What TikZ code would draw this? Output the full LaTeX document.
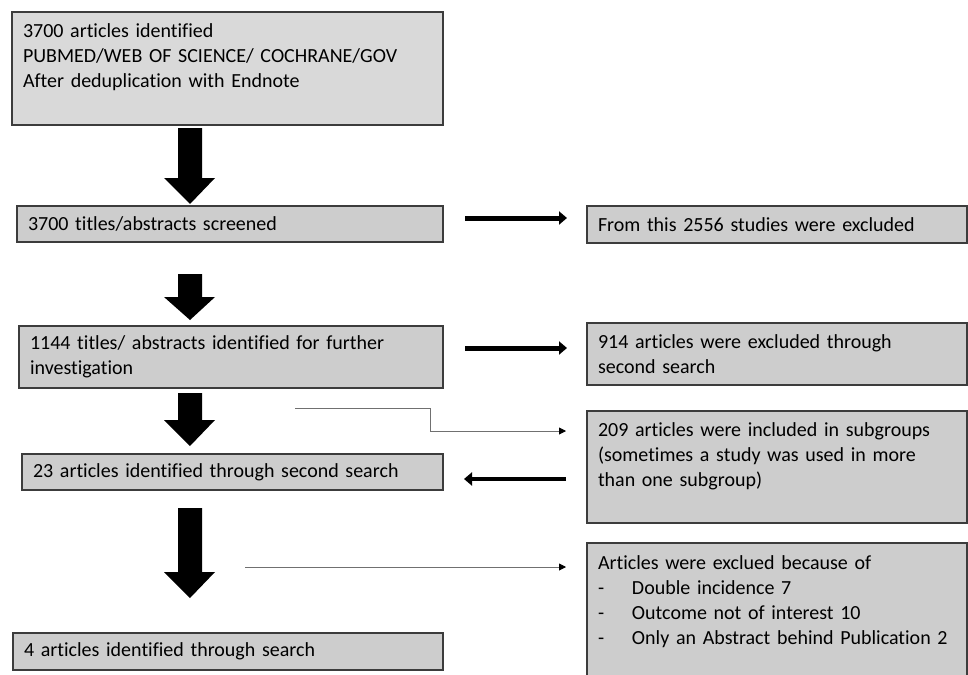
\documentclass[tikz,border=0pt]{standalone}
\usepackage{fontspec}
\setmainfont[RawFeature=-liga]{Carlito}
\usetikzlibrary{arrows.meta}
\definecolor{boxfill}{HTML}{CDCDCD}
\definecolor{boxfillA}{HTML}{D9D9D9}
\definecolor{boxline}{HTML}{3C3C3C}
\definecolor{thinline}{HTML}{707070}
\newcommand\bigdownarr[3]{\fill[black] (178,-#1) -- (202,-#1) -- (202,-#2) -- (215,-#2) -- (190,-#3) -- (164,-#2) -- (178,-#2) -- cycle;}
\newcommand\lstitem[1]{\makebox[34pt][l]{-}#1}
\begin{document}
\begin{tikzpicture}[x=1pt,y=1pt,
  flowbox/.style={draw=boxline, line width=1.3pt, fill=boxfill, anchor=north west,
    align=left, inner xsep=11pt, inner ysep=0pt, outer sep=0pt,
    font=\fontsize{20}{25}\selectfont},
  thickarr/.style={line width=5pt, -{Triangle[length=8pt,width=13pt]}},
  thinarr/.style={draw=thinline, line width=0.9pt, -{Triangle[length=7pt,width=7pt,color=black]}}]
\useasboundingbox (0,0) rectangle (968,-674);
% left column
\node[flowbox, fill=boxfillA, text width=409pt, minimum height=113pt] (A) at (12,-12)
  {3700 articles identified\\PUBMED/WEB OF SCIENCE/ COCHRANE/GOV\\After deduplication with Endnote\\\mbox{}};
\node[flowbox, text width=404pt, minimum height=36pt] (B) at (17,-206) {3700 titles/abstracts screened};
\node[flowbox, text width=402pt, minimum height=62pt] (D) at (19,-326) {1144 titles/ abstracts identified for further\\investigation};
\node[flowbox, text width=399pt, minimum height=36pt] (E) at (22,-454) {23 articles identified through second search};
\node[flowbox, text width=408pt, minimum height=37pt] (H) at (13,-633) {4 articles identified through search};
% right column
\node[flowbox, text width=358pt, minimum height=37pt] (C) at (587,-206) {From this 2556 studies were excluded};
\node[flowbox, text width=358pt, minimum height=62pt] (I) at (587,-323) {914 articles were excluded through\\second search};
\node[flowbox, text width=358pt, minimum height=112pt] (F) at (587,-411) {209 articles were included in subgroups\\(sometimes a study was used in more\\than one subgroup)\\\mbox{}};
\node[flowbox, text width=358pt, minimum height=140pt] (G) at (587,-543) {Articles were exclued because of\\\lstitem{Double incidence 7}\\\lstitem{Outcome not of interest 10}\\\lstitem{Only an Abstract behind Publication 2}\\\mbox{}};
% big down arrows
\bigdownarr{128}{178}{204}
\bigdownarr{274}{297}{320}
\bigdownarr{393}{420}{446}
\bigdownarr{508}{572}{598}
% thick horizontal arrows
\coordinate (b1) at (465,-218); \coordinate (c1) at (567,-218);
\coordinate (d1) at (465,-348); \coordinate (i1) at (567,-348);
\coordinate (f1) at (566,-479); \coordinate (e1) at (464,-479);
\draw[thickarr] (b1) -- (c1);
\draw[thickarr] (d1) -- (i1);
\draw[thickarr, line width=4.5pt] (f1) -- (e1);
% thin connectors
\coordinate (t1) at (295,-408); \coordinate (t1e) at (566,-431);
\draw[thinarr] (t1) -- (430,-408) -- (430,-431) -- (t1e);
\coordinate (t2) at (245,-567); \coordinate (t2e) at (566,-567);
\draw[thinarr] (t2) -- (t2e);
\end{tikzpicture}
\end{document}
